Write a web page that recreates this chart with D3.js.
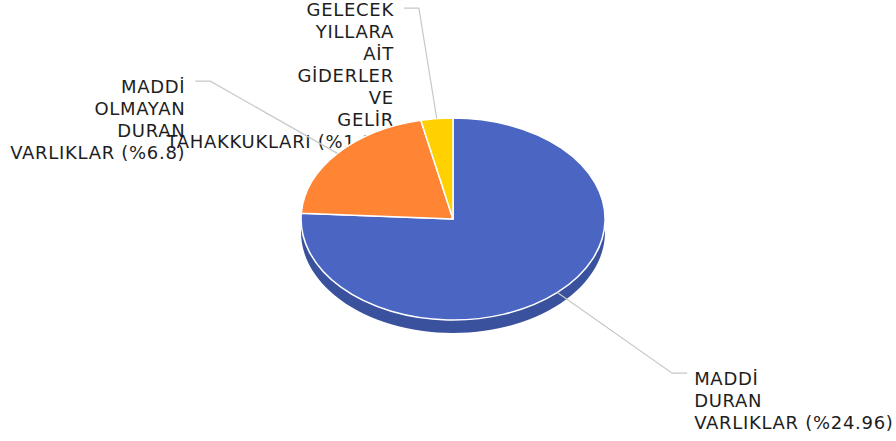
<!DOCTYPE html>
<html>
<head>
<meta charset="utf-8">
<script src="https://cdn.jsdelivr.net/npm/d3@7"></script>
<style>
    body { margin: 0; background: #fff; }
    svg { display: block; }
    text { font-family: "DejaVu Sans", Verdana, sans-serif; font-size: 18px; letter-spacing: 0.7px; fill: #1e1e1e; }
</style>
</head>
<body>
<div id="chart"></div>
<script>
// chart data
var categories = ["MADDİ DURAN VARLIKLAR", "MADDİ OLMAYAN DURAN VARLIKLAR", "GELECEK YILLARA AİT GİDERLER VE GELİR TAHAKKUKLARI"];
var values = [24.96, 6.8, 1.12];
var colors = ["#4a66c2", "#ff8534", "#ffd100"];
var sideColors = ["#3a529e", "#d06a24", "#d0a800"];

var width = 896, height = 441;
var cx = 453, cy = 219, rx = 152, ry = 101, depth = 13;

var svg = d3.select("#chart").append("svg")
    .attr("width", width)
    .attr("height", height);

var color = d3.scaleOrdinal().domain(categories).range(colors);
var sideColor = d3.scaleOrdinal().domain(categories).range(sideColors);

var pie = d3.pie()
    .sort(null)
    .value(function (d) { return d.value; });

var data = categories.map(function (c, i) { return { name: c, value: values[i] }; });
var arcs = pie(data);

// point on the ellipse at angle a (clockwise from top), r = radius factor
function pt(a, r, dy) {
    return [cx + rx * r * Math.sin(a), cy - ry * r * Math.cos(a) + (dy || 0)];
}

// Labels (drawn first so the pie covers overflowing text)
var labelG = svg.append("g");

arcs.forEach(function (d) {
    var mid = (d.startAngle + d.endAngle) / 2;
    var right = Math.sin(mid) > 0;
    var elbow = pt(mid, 2.1);
    if (elbow[1] < 8) elbow[1] = 8;
    var end = [elbow[0] + (right ? 15 : -15), elbow[1]];
    d.line = [pt(mid, 1), elbow, end];

    var words = d.data.name.split(" ");
    var last = words.pop() + " (%" + d.data.value + ")";
    words.push(last);

    var tx = end[0] + (right ? 7 : -10);
    var t = labelG.append("text")
        .attr("text-anchor", right ? "start" : "end")
        .attr("x", tx)
        .attr("y", elbow[1] + (elbow[1] < 20 ? 8 : 12));

    t.selectAll("tspan")
        .data(words)
        .enter()
        .append("tspan")
        .attr("x", tx)
        .attr("dy", function (w, i) { return i === 0 ? 0 : 22; })
        .text(function (w) { return w; });
});

// Side of the pie (front half only)
var line = d3.line();
var sideG = svg.append("g");
arcs.forEach(function (d) {
    var s = Math.max(d.startAngle, Math.PI / 2);
    var e = Math.min(d.endAngle, Math.PI * 3 / 2);
    if (s >= e) return;
    var n = 60;
    var top = d3.range(n + 1).map(function (i) { return pt(s + (e - s) * i / n, 1); });
    var bottom = d3.range(n + 1).map(function (i) { return pt(e - (e - s) * i / n, 1, depth); });
    sideG.append("path")
        .attr("d", line(top.concat(bottom)) + "Z")
        .attr("fill", sideColor(d.data.name));
});

// Top of the pie
var arc = d3.arc().innerRadius(0).outerRadius(1);
svg.append("g")
    .attr("transform", "translate(" + cx + "," + cy + ") scale(" + rx + "," + ry + ")")
    .selectAll("path")
    .data(arcs)
    .enter()
    .append("path")
    .attr("d", arc)
    .attr("fill", function (d) { return color(d.data.name); })
    .attr("stroke", "#fff")
    .attr("stroke-width", 1.5)
    .attr("stroke-linejoin", "round")
    .attr("vector-effect", "non-scaling-stroke");

// Leader lines
svg.append("g")
    .selectAll("path")
    .data(arcs)
    .enter()
    .append("path")
    .attr("d", function (d) { return line(d.line); })
    .attr("fill", "none")
    .attr("stroke", "#c8c8c8")
    .attr("stroke-width", 1.2);
</script>
</body>
</html>
